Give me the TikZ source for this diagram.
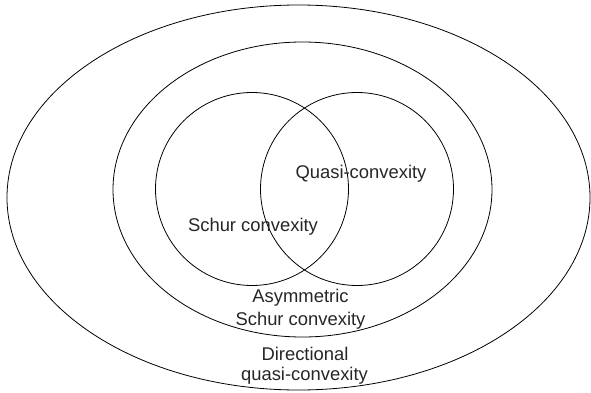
\documentclass[tikz,border=0pt]{standalone}
\usepackage{fontspec}
\setmainfont{Liberation Sans}
\begin{document}
\begin{tikzpicture}[x=1pt,y=1pt,
  setline/.style={draw=black,line width=0.8pt},
  lbl/.style={font=\fontsize{18.4}{22}\selectfont,anchor=base,inner sep=0pt,text=black!85}]
\useasboundingbox (0,0) rectangle (591,392);
\draw[setline] (298.5,194.5) ellipse [x radius=291.5, y radius=192.5];
\draw[setline] (302.5,202.5) ellipse [x radius=189.5, y radius=147.5];
\draw[setline] (252,203) circle [radius=96.5];
\draw[setline] (357,203) circle [radius=96.5];
\node[lbl] (quasi) at (361,214) {Quasi-convexity};
\node[lbl] (schur) at (253,161) {Schur convexity};
\node[lbl] (asym1) at (300.5,90) {Asymmetric};
\node[lbl] (asym2) at (300.5,67) {Schur convexity};
\node[lbl] (dir1) at (305,32) {Directional};
\node[lbl] (dir2) at (304.5,12) {quasi-convexity};
\end{tikzpicture}
\end{document}
